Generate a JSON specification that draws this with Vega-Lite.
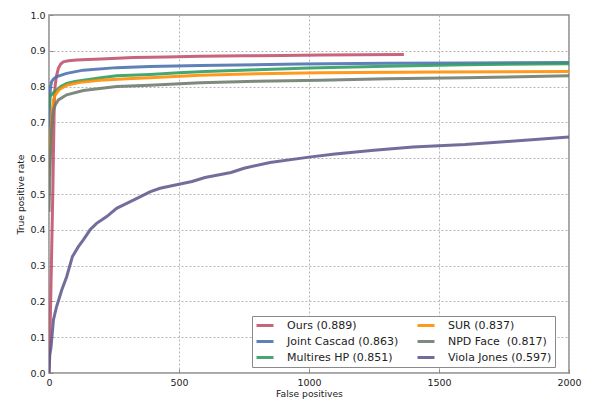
{
  "$schema": "https://vega.github.io/schema/vega-lite/v6.json",
  "width": 520,
  "height": 358,
  "autosize": {"type": "none"},
  "padding": {"left": 49, "top": 15, "right": 21, "bottom": 29},
  "background": "white",
  "config": {
    "font": "DejaVu Sans",
    "view": {"stroke": "#8a8a8a", "strokeWidth": 1.5},
    "axis": {
      "domain": false,
      "grid": true,
      "gridColor": "#b5b5b5",
      "gridDash": [2, 2],
      "gridWidth": 1,
      "labelFont": "DejaVu Sans",
      "labelFontSize": 9.5,
      "labelColor": "#222222",
      "labelFlush": false,
      "labelOverlap": false,
      "titleFont": "DejaVu Sans",
      "titleFontSize": 9.2,
      "titleFontWeight": "normal",
      "titleColor": "#222222",
      "tickColor": "#8a8a8a",
      "tickSize": -4,
      "labelPadding": 8
    }
  },
  "data": {
    "values": [
      {"m": "Ours (0.889)", "fp": 0, "tpr": 0.0},
      {"m": "Ours (0.889)", "fp": 5, "tpr": 0.15},
      {"m": "Ours (0.889)", "fp": 10, "tpr": 0.33},
      {"m": "Ours (0.889)", "fp": 15, "tpr": 0.52},
      {"m": "Ours (0.889)", "fp": 19, "tpr": 0.7},
      {"m": "Ours (0.889)", "fp": 21, "tpr": 0.77},
      {"m": "Ours (0.889)", "fp": 24, "tpr": 0.805},
      {"m": "Ours (0.889)", "fp": 29, "tpr": 0.83},
      {"m": "Ours (0.889)", "fp": 36, "tpr": 0.851},
      {"m": "Ours (0.889)", "fp": 45, "tpr": 0.863},
      {"m": "Ours (0.889)", "fp": 55, "tpr": 0.869},
      {"m": "Ours (0.889)", "fp": 75, "tpr": 0.872},
      {"m": "Ours (0.889)", "fp": 106, "tpr": 0.874},
      {"m": "Ours (0.889)", "fp": 150, "tpr": 0.876},
      {"m": "Ours (0.889)", "fp": 200, "tpr": 0.877},
      {"m": "Ours (0.889)", "fp": 325, "tpr": 0.881},
      {"m": "Ours (0.889)", "fp": 450, "tpr": 0.883},
      {"m": "Ours (0.889)", "fp": 580, "tpr": 0.885},
      {"m": "Ours (0.889)", "fp": 750, "tpr": 0.886},
      {"m": "Ours (0.889)", "fp": 900, "tpr": 0.887},
      {"m": "Ours (0.889)", "fp": 1050, "tpr": 0.888},
      {"m": "Ours (0.889)", "fp": 1200, "tpr": 0.889},
      {"m": "Ours (0.889)", "fp": 1365, "tpr": 0.89},

      {"m": "Joint Cascad (0.863)", "fp": 0, "tpr": 0.55},
      {"m": "Joint Cascad (0.863)", "fp": 1, "tpr": 0.7},
      {"m": "Joint Cascad (0.863)", "fp": 3, "tpr": 0.77},
      {"m": "Joint Cascad (0.863)", "fp": 6, "tpr": 0.8},
      {"m": "Joint Cascad (0.863)", "fp": 10, "tpr": 0.814},
      {"m": "Joint Cascad (0.863)", "fp": 18, "tpr": 0.822},
      {"m": "Joint Cascad (0.863)", "fp": 30, "tpr": 0.828},
      {"m": "Joint Cascad (0.863)", "fp": 68, "tpr": 0.837},
      {"m": "Joint Cascad (0.863)", "fp": 132, "tpr": 0.846},
      {"m": "Joint Cascad (0.863)", "fp": 260, "tpr": 0.853},
      {"m": "Joint Cascad (0.863)", "fp": 388, "tpr": 0.856},
      {"m": "Joint Cascad (0.863)", "fp": 581, "tpr": 0.859},
      {"m": "Joint Cascad (0.863)", "fp": 965, "tpr": 0.863},
      {"m": "Joint Cascad (0.863)", "fp": 1300, "tpr": 0.865},
      {"m": "Joint Cascad (0.863)", "fp": 1600, "tpr": 0.866},
      {"m": "Joint Cascad (0.863)", "fp": 2000, "tpr": 0.867},

      {"m": "Multires HP (0.851)", "fp": 0, "tpr": 0.74},
      {"m": "Multires HP (0.851)", "fp": 4, "tpr": 0.772},
      {"m": "Multires HP (0.851)", "fp": 10, "tpr": 0.777},
      {"m": "Multires HP (0.851)", "fp": 20, "tpr": 0.785},
      {"m": "Multires HP (0.851)", "fp": 30, "tpr": 0.79},
      {"m": "Multires HP (0.851)", "fp": 45, "tpr": 0.8},
      {"m": "Multires HP (0.851)", "fp": 68, "tpr": 0.809},
      {"m": "Multires HP (0.851)", "fp": 100, "tpr": 0.814},
      {"m": "Multires HP (0.851)", "fp": 132, "tpr": 0.818},
      {"m": "Multires HP (0.851)", "fp": 200, "tpr": 0.825},
      {"m": "Multires HP (0.851)", "fp": 260, "tpr": 0.83},
      {"m": "Multires HP (0.851)", "fp": 388, "tpr": 0.834},
      {"m": "Multires HP (0.851)", "fp": 500, "tpr": 0.839},
      {"m": "Multires HP (0.851)", "fp": 600, "tpr": 0.842},
      {"m": "Multires HP (0.851)", "fp": 800, "tpr": 0.847},
      {"m": "Multires HP (0.851)", "fp": 1000, "tpr": 0.852},
      {"m": "Multires HP (0.851)", "fp": 1300, "tpr": 0.857},
      {"m": "Multires HP (0.851)", "fp": 1600, "tpr": 0.861},
      {"m": "Multires HP (0.851)", "fp": 2000, "tpr": 0.864},

      {"m": "SUR (0.837)", "fp": 0, "tpr": 0.55},
      {"m": "SUR (0.837)", "fp": 8, "tpr": 0.68},
      {"m": "SUR (0.837)", "fp": 12, "tpr": 0.73},
      {"m": "SUR (0.837)", "fp": 17, "tpr": 0.763},
      {"m": "SUR (0.837)", "fp": 25, "tpr": 0.778},
      {"m": "SUR (0.837)", "fp": 40, "tpr": 0.792},
      {"m": "SUR (0.837)", "fp": 68, "tpr": 0.804},
      {"m": "SUR (0.837)", "fp": 120, "tpr": 0.812},
      {"m": "SUR (0.837)", "fp": 196, "tpr": 0.818},
      {"m": "SUR (0.837)", "fp": 300, "tpr": 0.822},
      {"m": "SUR (0.837)", "fp": 388, "tpr": 0.825},
      {"m": "SUR (0.837)", "fp": 581, "tpr": 0.832},
      {"m": "SUR (0.837)", "fp": 800, "tpr": 0.836},
      {"m": "SUR (0.837)", "fp": 1042, "tpr": 0.839},
      {"m": "SUR (0.837)", "fp": 1500, "tpr": 0.841},
      {"m": "SUR (0.837)", "fp": 2000, "tpr": 0.842},

      {"m": "NPD Face\u00a0 (0.817)", "fp": 0, "tpr": 0.45},
      {"m": "NPD Face\u00a0 (0.817)", "fp": 5, "tpr": 0.6},
      {"m": "NPD Face\u00a0 (0.817)", "fp": 10, "tpr": 0.68},
      {"m": "NPD Face\u00a0 (0.817)", "fp": 14, "tpr": 0.72},
      {"m": "NPD Face\u00a0 (0.817)", "fp": 17, "tpr": 0.735},
      {"m": "NPD Face\u00a0 (0.817)", "fp": 25, "tpr": 0.75},
      {"m": "NPD Face\u00a0 (0.817)", "fp": 36, "tpr": 0.763},
      {"m": "NPD Face\u00a0 (0.817)", "fp": 68, "tpr": 0.777},
      {"m": "NPD Face\u00a0 (0.817)", "fp": 132, "tpr": 0.789},
      {"m": "NPD Face\u00a0 (0.817)", "fp": 260, "tpr": 0.8},
      {"m": "NPD Face\u00a0 (0.817)", "fp": 388, "tpr": 0.804},
      {"m": "NPD Face\u00a0 (0.817)", "fp": 581, "tpr": 0.811},
      {"m": "NPD Face\u00a0 (0.817)", "fp": 800, "tpr": 0.815},
      {"m": "NPD Face\u00a0 (0.817)", "fp": 1042, "tpr": 0.818},
      {"m": "NPD Face\u00a0 (0.817)", "fp": 1300, "tpr": 0.822},
      {"m": "NPD Face\u00a0 (0.817)", "fp": 1600, "tpr": 0.825},
      {"m": "NPD Face\u00a0 (0.817)", "fp": 2000, "tpr": 0.83},

      {"m": "Viola Jones (0.597)", "fp": 0, "tpr": 0.0},
      {"m": "Viola Jones (0.597)", "fp": 3, "tpr": 0.05},
      {"m": "Viola Jones (0.597)", "fp": 8, "tpr": 0.073},
      {"m": "Viola Jones (0.597)", "fp": 17, "tpr": 0.148},
      {"m": "Viola Jones (0.597)", "fp": 29, "tpr": 0.185},
      {"m": "Viola Jones (0.597)", "fp": 49, "tpr": 0.232},
      {"m": "Viola Jones (0.597)", "fp": 68, "tpr": 0.269},
      {"m": "Viola Jones (0.597)", "fp": 90, "tpr": 0.325},
      {"m": "Viola Jones (0.597)", "fp": 113, "tpr": 0.353},
      {"m": "Viola Jones (0.597)", "fp": 132, "tpr": 0.372},
      {"m": "Viola Jones (0.597)", "fp": 158, "tpr": 0.4},
      {"m": "Viola Jones (0.597)", "fp": 183, "tpr": 0.418},
      {"m": "Viola Jones (0.597)", "fp": 222, "tpr": 0.437},
      {"m": "Viola Jones (0.597)", "fp": 260, "tpr": 0.46},
      {"m": "Viola Jones (0.597)", "fp": 299, "tpr": 0.474},
      {"m": "Viola Jones (0.597)", "fp": 350, "tpr": 0.492},
      {"m": "Viola Jones (0.597)", "fp": 388, "tpr": 0.506},
      {"m": "Viola Jones (0.597)", "fp": 427, "tpr": 0.516},
      {"m": "Viola Jones (0.597)", "fp": 500, "tpr": 0.527},
      {"m": "Viola Jones (0.597)", "fp": 550, "tpr": 0.535},
      {"m": "Viola Jones (0.597)", "fp": 600, "tpr": 0.546},
      {"m": "Viola Jones (0.597)", "fp": 700, "tpr": 0.56},
      {"m": "Viola Jones (0.597)", "fp": 750, "tpr": 0.572},
      {"m": "Viola Jones (0.597)", "fp": 850, "tpr": 0.588},
      {"m": "Viola Jones (0.597)", "fp": 1000, "tpr": 0.603},
      {"m": "Viola Jones (0.597)", "fp": 1100, "tpr": 0.612},
      {"m": "Viola Jones (0.597)", "fp": 1250, "tpr": 0.622},
      {"m": "Viola Jones (0.597)", "fp": 1400, "tpr": 0.631},
      {"m": "Viola Jones (0.597)", "fp": 1600, "tpr": 0.638},
      {"m": "Viola Jones (0.597)", "fp": 1750, "tpr": 0.646},
      {"m": "Viola Jones (0.597)", "fp": 2000, "tpr": 0.659}
    ]
  },
  "mark": {"type": "line", "strokeWidth": 3, "opacity": 0.88, "interpolate": "linear", "clip": true},
  "encoding": {
    "x": {
      "field": "fp",
      "type": "quantitative",
      "title": "False positives",
      "scale": {"domain": [0, 2000], "nice": false},
      "axis": {"values": [0, 500, 1000, 1500, 2000], "format": "d", "titlePadding": 3}
    },
    "y": {
      "field": "tpr",
      "type": "quantitative",
      "title": "True positive rate",
      "scale": {"domain": [0, 1], "nice": false},
      "axis": {"values": [0, 0.1, 0.2, 0.3, 0.4, 0.5, 0.6, 0.7, 0.8, 0.9, 1.0], "format": ".1f", "titlePadding": 4}
    },
    "color": {
      "field": "m",
      "type": "nominal",
      "sort": null,
      "scale": {
        "domain": ["Ours (0.889)", "Joint Cascad (0.863)", "Multires HP (0.851)", "SUR (0.837)", "NPD Face\u00a0 (0.817)", "Viola Jones (0.597)"],
        "range": ["#c0506a", "#4a70ae", "#2e9b5e", "#ff8c00", "#6c7a6c", "#5e5a8e"]
      },
      "legend": {
        "title": null,
        "orient": "none",
        "legendX": 203,
        "legendY": 301,
        "columns": 2,
        "columnPadding": 17,
        "rowPadding": 3,
        "clipHeight": 13,
        "padding": 3,
        "strokeColor": "#8a8a8a",
        "fillColor": "white",
        "symbolType": "stroke",
        "symbolSize": 289,
        "symbolStrokeWidth": 3,
        "symbolOpacity": 0.88,
        "labelFont": "DejaVu Sans",
        "labelFontSize": 11,
        "labelColor": "#222222",
        "labelOffset": 12,
        "labelLimit": 0
      }
    }
  }
}
